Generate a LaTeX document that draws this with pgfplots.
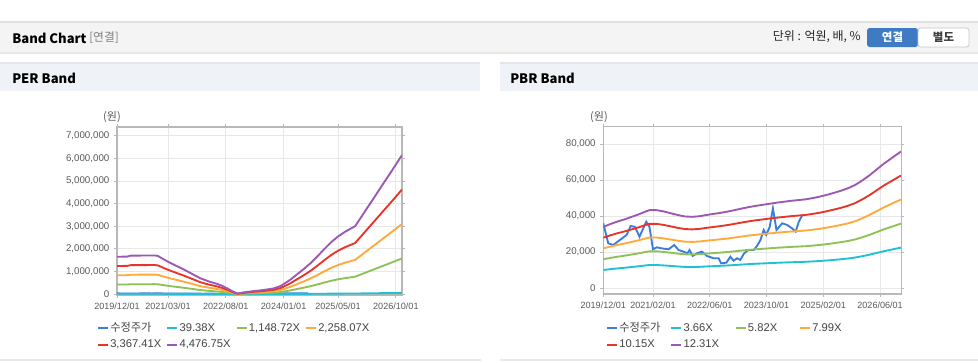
\documentclass[border=0pt]{standalone}
\usepackage{fontspec}
\setmainfont{Liberation Sans}
\newfontfamily\kr{Noto Sans CJK KR}
\usepackage{pgfplots}
\usepackage{pgfplotstable}
\pgfplotsset{compat=1.18}
\definecolor{hdrbg}{HTML}{F4F4F4}
\definecolor{hdrline}{HTML}{E0E0E0}
\definecolor{shadowc}{HTML}{D6D6D6}
\definecolor{subbg}{HTML}{EFF2F7}
\definecolor{subline}{HTML}{E2E6EC}
\definecolor{axisc}{HTML}{B8B8B8}
\definecolor{gridc}{HTML}{E8E8E8}
\definecolor{tickt}{HTML}{5A5A5A}
\definecolor{legt}{HTML}{444444}
\definecolor{btnblue}{HTML}{3F7BC3}
\definecolor{btnborder}{HTML}{C9C9C9}
\definecolor{cblue}{HTML}{3B7DDD}
\definecolor{ccyan}{HTML}{1FC1D3}
\definecolor{cgreen}{HTML}{8DC356}
\definecolor{corange}{HTML}{FFAA3A}
\definecolor{cred}{HTML}{E8342A}
\definecolor{cpurple}{HTML}{9D58B4}

\pgfplotstableread{
m p r o g c
0 1650000 1241000 832000 423000 14500
3 1660000 1249000 837000 426000 14600
4 1700000 1279000 857000 436000 15000
11 1710000 1286000 863000 439000 15000
12 1690000 1271000 852000 434000 14900
13 1600000 1204000 807000 411000 14100
15 1430000 1076000 721000 367000 12600
17 1280000 963000 646000 328000 11300
19.5 1100000 827000 555000 282000 9700
22 900000 677000 454000 231000 7900
24.5 700000 527000 353000 180000 6200
27 560000 421000 282000 144000 4900
29.5 450000 338000 227000 115000 4000
31 360000 271000 182000 92000 3200
32.5 250000 188000 126000 64000 2200
34 120000 90000 61000 31000 1100
35.5 20000 15000 10000 5000 200
37 70000 53000 35000 18000 600
40 130000 98000 66000 33000 1100
43 180000 135000 91000 46000 1600
46 250000 188000 126000 64000 2200
48 350000 263000 177000 90000 3100
49 440000 331000 222000 113000 3900
51 640000 481000 323000 164000 5600
53 880000 662000 444000 226000 7700
55 1120000 842000 565000 287000 9900
57 1380000 1038000 696000 354000 12100
59 1680000 1264000 847000 431000 14800
61 2000000 1504000 1009000 513000 17600
63 2300000 1730000 1160000 590000 20200
65 2550000 1918000 1286000 654000 22400
67 2750000 2069000 1387000 706000 24200
69 2920000 2196000 1473000 749000 25700
70 3000000 2257000 1513000 770000 26400
72 3450000 2595000 1740000 885000 30300
74 3910000 2941000 1972000 1003000 34400
76 4360000 3280000 2199000 1119000 38400
78 4820000 3626000 2431000 1237000 42400
80 5270000 3964000 2658000 1352000 46400
82 5730000 4310000 2890000 1470000 50400
83.8 6150000 4626000 3102000 1578000 54100
}\perbands

\pgfplotstableread{
m p r o g c
0 34000 28030 22070 16080 10110
2 35600 29350 23110 16830 10580
4 37000 30510 24020 17490 11000
6 38200 31500 24800 18060 11360
8 39600 32650 25700 18720 11770
10 41000 33800 26610 19380 12190
12 42600 35120 27650 20140 12660
13 43300 35700 28110 20470 12870
15 43300 35700 28110 20470 12870
17 42600 35120 27650 20140 12660
19 41600 34300 27000 19670 12370
21 40600 33470 26350 19200 12070
23 39800 32820 25830 18820 11830
25 39600 32650 25700 18720 11770
27 39900 32900 25900 18860 11860
29 40600 33470 26350 19200 12070
31 41200 33970 26740 19480 12250
33 41800 34460 27130 19760 12430
35 42500 35040 27590 20090 12640
37 43300 35700 28110 20470 12870
39 44200 36440 28690 20900 13140
41 45000 37100 29210 21280 13380
43 45700 37680 29660 21610 13590
45 46300 38170 30050 21890 13760
47 46900 38670 30440 22170 13940
49 47500 39160 30830 22460 14120
51 48000 39580 31160 22690 14270
53 48500 39990 31480 22930 14420
55 48900 40320 31740 23120 14540
57 49300 40650 32000 23310 14660
59 50000 41230 32460 23640 14870
61 50800 41880 32970 24020 15100
63 51800 42710 33620 24490 15400
65 52900 43620 34340 25010 15730
67 54100 44610 35120 25580 16080
69 55500 45760 36030 26240 16500
71 57300 47240 37190 27090 17040
73 59800 49310 38820 28270 17780
75 62600 51610 40630 29600 18610
77 65800 54250 42710 31110 19560
79 69000 56890 44790 32620 20510
81 71800 59200 46610 33950 21350
83 74600 61510 48420 35270 22180
83.9 75800 62500 49200 35840 22540
}\pbrbands

\pgfplotstableread{
m v
0 36000
1.4 24900
2.8 24000
4.7 26800
6.6 29600
7.7 34500
8.9 34100
10.2 28600
12.1 36900
13 34100
14 21600
15.1 22700
16.5 22100
18.4 21600
20 24000
21.2 21200
22.6 20300
23.7 19400
24.3 21200
25.2 17900
26.4 19400
27.8 20300
29.2 17900
31.1 16600
32.5 16600
33.2 13800
34.7 14200
35.8 17500
36.7 15300
37.7 16600
38.6 15700
39.7 19400
40.9 21200
42.4 21200
43.3 23400
44.3 26800
45.2 32300
45.9 29600
46.9 34100
47.8 44300
48.8 32300
50.4 36000
51.8 35100
53.2 33200
54.2 31400
55.1 36900
56.1 40600
}\price

\pgfplotsset{
  bandaxis/.style={
    anchor=south west, scale only axis,
    axis line style={axisc, line width=0.8pt},
    grid=major, major grid style={gridc, line width=0.7pt},
    tick align=outside, major tick length=2.2pt,
    tick style={axisc, line width=0.6pt},
    xticklabel style={font=\fontsize{6.8}{7}\selectfont, text=tickt},
    yticklabel style={font=\fontsize{7.3}{8}\selectfont, text=tickt,
      /pgf/number format/.cd, fixed, 1000 sep={,}, assume math mode=true},
    scaled y ticks=false,
    every axis plot/.append style={line width=1.4pt, mark=none},
    legend columns=4, legend cell align=left,
    legend image code/.code={\draw[##1, line width=1.5pt] (0pt,0pt) -- (7.5pt,0pt);},
    legend style={draw=none, fill=none, at={(0,0)}, anchor=north west,
      inner sep=0pt, nodes={inner sep=1pt}, row sep=2.6pt, column sep=0pt,
      font=\fontsize{8.4}{9}\selectfont, text=legt},
  }
}

\begin{document}
\begin{tikzpicture}[x=0.75pt,y=-0.75pt]
\useasboundingbox (0,0) rectangle (978,362);
\fill[white] (0,0) rectangle (978,362);
% top header bar
\fill[shadowc!60] (0,51) rectangle (978,54);
\fill[hdrbg] (0,22) rectangle (978,52);
\fill[hdrline] (0,21) rectangle (978,23);
\node[anchor=west, inner sep=0pt, font=\kr\bfseries\fontsize{9.8}{10}\selectfont] at (12,38) {Band Chart};
\node[anchor=west, inner sep=0pt, font=\kr\fontsize{8.8}{9}\selectfont, text=gray] at (89,38) {[연결]};
\node[anchor=east, inner sep=0pt, font=\kr\fontsize{9}{9}\selectfont, text=black!85] at (861,37) {단위 : 억원, 배, \%};
\fill[btnblue, rounded corners=2pt] (867,28) rectangle (918,47);
\filldraw[fill=white, draw=btnborder, line width=0.6pt, rounded corners=2pt] (918,28) rectangle (969,47);
\node[inner sep=0pt, font=\kr\bfseries\fontsize{8.6}{9}\selectfont, text=white] at (892.5,37.5) {연결};
\node[inner sep=0pt, font=\kr\bfseries\fontsize{8.6}{9}\selectfont, text=black!75] at (943.5,37.5) {별도};
% sub headers
\fill[subbg] (0,62) rectangle (480,91);
\fill[subline] (0,61.5) rectangle (480,63.5);
\fill[subbg] (500,62) rectangle (978,91);
\fill[subline] (500,61.5) rectangle (978,63.5);
\node[anchor=west, inner sep=0pt, font=\kr\bfseries\fontsize{9.8}{10}\selectfont] at (12,78) {PER Band};
\node[anchor=west, inner sep=0pt, font=\kr\bfseries\fontsize{9.8}{10}\selectfont] at (510,78) {PBR Band};
% bottom lines
\fill[hdrline!70] (0,359) rectangle (481,361);
\fill[hdrline!70] (500,359) rectangle (978,361);
% unit labels
\node[inner sep=0pt, font=\kr\fontsize{8.3}{9}\selectfont, text=tickt] at (112,117) {(원)};
\node[inner sep=0pt, font=\kr\fontsize{8.3}{9}\selectfont, text=tickt] at (599,117) {(원)};

% PER axis
\begin{axis}[bandaxis,
  at={(117*0.75pt,-295*0.75pt)}, width=213.75pt, height=126pt,
  xmin=0, xmax=83.8, ymin=-40000, ymax=7390000,
  xtick={0,15,32,49,65,82},
  xticklabels={2019/12/01,2021/03/01,2022/08/01,2024/01/01,2025/05/01,2026/10/01},
  ytick={0,1000000,2000000,3000000,4000000,5000000,6000000,7000000},
  legend style={xshift=-15.25pt, yshift=-19.5pt},
]
\addplot[cblue] table[x=m, y=v] {\price};
\addlegendentry{\makebox[41pt][l]{\kr 수정주가}}
\addplot[ccyan] table[x=m, y=c] {\perbands};
\addlegendentry{\makebox[41pt][l]{39.38X}}
\addplot[cgreen] table[x=m, y=g] {\perbands};
\addlegendentry{\makebox[41pt][l]{1,148.72X}}
\addplot[corange] table[x=m, y=o] {\perbands};
\addlegendentry{\makebox[41pt][l]{2,258.07X}}
\addplot[cred] table[x=m, y=r] {\perbands};
\addlegendentry{\makebox[41pt][l]{3,367.41X}}
\addplot[cpurple] table[x=m, y=p] {\perbands};
\addlegendentry{\makebox[41pt][l]{4,476.75X}}
\end{axis}

% PBR axis
\begin{axis}[bandaxis,
  at={(603.3*0.75pt,-294*0.75pt)}, width=223.3pt, height=125.5pt,
  xmin=0, xmax=83.9, ymin=-3200, ymax=89600,
  xtick={0,14,30,46,62,78},
  xticklabels={2019/12/01,2021/02/01,2022/06/01,2023/10/01,2025/02/01,2026/06/01},
  ytick={0,20000,40000,60000,80000},
  legend style={xshift=1.8pt, yshift=-20.2pt},
]
\addplot[cblue] table[x=m, y=v] {\price};
\addlegendentry{\makebox[37.25pt][l]{\kr 수정주가}}
\addplot[ccyan] table[x=m, y=c] {\pbrbands};
\addlegendentry{\makebox[37.25pt][l]{3.66X}}
\addplot[cgreen] table[x=m, y=g] {\pbrbands};
\addlegendentry{\makebox[37.25pt][l]{5.82X}}
\addplot[corange] table[x=m, y=o] {\pbrbands};
\addlegendentry{\makebox[37.25pt][l]{7.99X}}
\addplot[cred] table[x=m, y=r] {\pbrbands};
\addlegendentry{\makebox[37.25pt][l]{10.15X}}
\addplot[cpurple] table[x=m, y=p] {\pbrbands};
\addlegendentry{\makebox[37.25pt][l]{12.31X}}
\end{axis}
\end{tikzpicture}
\end{document}
